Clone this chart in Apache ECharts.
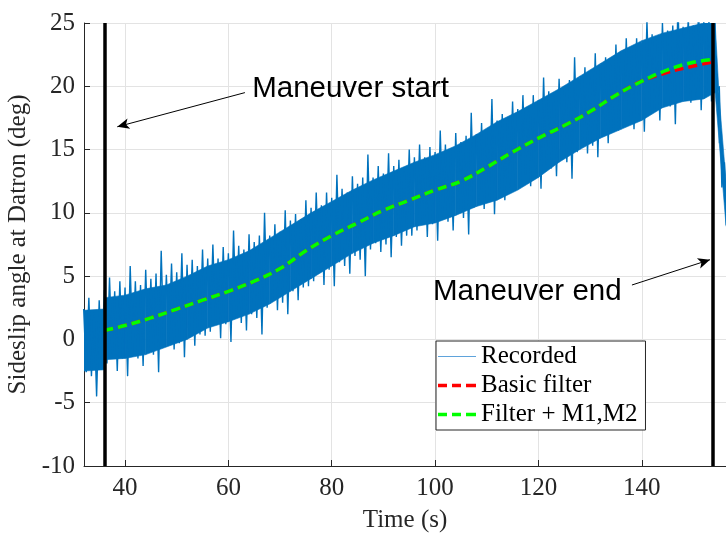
<!DOCTYPE html>
<html>
<head>
<meta charset="utf-8">
<script src="https://cdn.jsdelivr.net/npm/echarts@6/dist/echarts.min.js"></script>
<style>html,body{margin:0;padding:0;background:#fff}#c{width:726px;height:539px}</style>
</head>
<body>
<div id="c"></div>
<script>
// ---------- data ----------
const recStart = 32; // first sample time (s); one high at t, one low at t+0.5
const recHigh = [2.4,3.3,2.3,3.1,
3.9,4.9,3.8,4.6,4.1,5.8,4.6,4.3,5.5,4.8,
5.2,7.0,5.1,6.0,5.3,6.8,5.9,6.3,5.8,7.1,
6.4,7.5,6.4,7.3,6.8,8.6,7.4,7.1,8.3,7.7,
8.2,10.0,8.2,9.1,8.5,10.2,9.4,9.9,9.5,11.0,
10.4,11.6,10.6,11.6,11.2,13.0,11.9,11.6,12.9,12.3,
12.8,14.6,12.8,13.7,13.1,14.7,13.7,14.2,13.6,15.0,
14.4,15.4,14.4,15.2,14.8,16.5,15.4,15.0,16.3,15.6,
16.1,17.9,16.2,17.1,16.5,19.0,17.3,17.8,17.4,18.8,
18.2,19.3,18.4,19.3,18.9,20.7,19.6,19.3,20.6,20.0,
20.5,22.3,20.6,21.5,20.9,22.6,21.7,22.3,21.8,23.3,
22.7,23.8,22.9,23.8,23.4,25.2,24.1,23.7,25.0,24.4,
24.8,26.5,24.7,25.5,24.8,26.3,25.2,25.6,24.9,
20.0,14.0];
const recLow = [-2.6,-2.9,-4.5,-2.4,
-1.9,-1.4,-2.5,-1.5,-2.9,-1.1,-1.5,-2.1,-0.8,-1.2,
-2.6,-0.5,-0.1,-0.8,-0.3,-1.4,0.3,-0.5,0.4,0.3,
0.6,1.2,0.1,1.2,-0.2,1.7,1.3,0.7,2.0,1.7,
0.4,2.5,3.0,2.3,2.9,2.0,3.8,3.1,4.1,4.2,
4.6,5.3,4.3,5.5,4.2,6.1,5.8,5.2,6.6,6.3,
5.0,7.1,7.6,6.9,7.5,6.5,8.1,7.4,8.2,8.2,
8.6,9.1,8.1,9.1,7.8,9.6,9.3,8.6,10.0,9.6,
8.3,10.4,11.0,10.3,10.9,9.9,11.7,11.0,12.0,12.0,
12.4,13.0,12.1,13.2,11.9,13.8,13.5,12.9,14.3,14.0,
12.7,14.8,15.4,14.7,15.3,14.4,16.1,15.5,16.4,16.5,
16.9,17.5,16.6,17.7,16.4,18.3,18.0,17.3,18.7,18.4,
17.0,19.0,19.5,18.7,19.2,18.1,19.6,18.8,19.5,
12.0,8.0];
// dense (solid) part of the recorded signal
const coreTime = [32,35.9,36.1,40,44,48,52,56,60,64,68,72,76,80,84,88,92,96,100,104,108,112,116,120,124,128,132,136,140,144,148,152,154.2,155,156.3];
const coreTop  = [2.3,2.4,3.3,3.5,4.0,4.3,5.0,5.8,6.3,7.0,8.0,9.0,10.0,10.9,11.8,12.6,13.3,14.0,14.6,15.3,16.2,17.2,18.0,18.9,19.8,20.8,21.8,22.8,23.6,24.2,24.6,25.0,25.0,19.0,12.5];
const coreBot  = [-2.5,-2.4,-1.6,-1.5,-1.2,-0.6,0.0,0.9,1.4,2.0,2.8,3.8,4.8,5.8,6.8,7.6,8.2,8.9,9.2,9.8,10.5,11.0,11.8,12.8,14.0,15.0,15.9,16.6,17.3,18.3,18.8,19.0,19.5,15.5,9.0];
const filtTime = [36,40,45,50,55,60,65,70,75,80,85,90,95,100,105,110,115,120,125,130,135,140,145,150,153.5];
const basicFilter = [0.7,1.1,1.7,2.4,3.1,3.8,4.6,5.6,7.0,8.2,9.2,10.2,11.0,11.8,12.5,13.6,14.8,15.9,16.9,18.0,19.3,20.4,21.1,21.6,21.9];
const enhFilter   = [0.7,1.1,1.7,2.4,3.1,3.8,4.6,5.6,7.0,8.2,9.2,10.2,11.0,11.8,12.5,13.6,14.8,15.9,16.9,18.0,19.3,20.4,21.3,21.9,22.1];
const xTicks = [40,60,80,100,120,140];
const maneuverTimes = [36, 153.7];
const annStartArrow = [[63.2,19.5],[38.5,16.8]];
const annEndArrow = [[138.1,4.3],[153.2,6.3]];
const annTexts = [{text:'Maneuver start', at:[64.6,19.8]},{text:'Maneuver end', at:[99.6,3.75]}];
const seriesNames = ['Recorded','Basic filter','Filter + M1,M2'];

// ---------- build ----------
const recData = [];
for (let i = 0; i < recHigh.length; i++) {
  recData.push([recStart + i, recHigh[i]]);
  recData.push([recStart + i + 0.5, recLow[i]]);
}
const coreData = [];
for (let i = 0; i < coreTime.length - 1; i++) {
  coreData.push([coreTime[i], coreBot[i], coreTop[i], coreTime[i+1], coreBot[i+1], coreTop[i+1]]);
}
const zip = (xs, ys) => xs.map((x, i) => [x, ys[i]]);
const BLUE = '#0072BD';
const thinIcon = 'path://M0,0h38v1.2h-38z';
const dashIcon = 'path://M0,0h9v3.5h-9zM14,0h9v3.5h-9zM28,0h10v3.5h-10z';

const serif = "'Liberation Serif','Times New Roman',serif";
const sans = "'Liberation Sans',Arial,sans-serif";
const chart = echarts.init(document.getElementById('c'), null, {renderer:'canvas'});
const option = {
  animation:false,
  backgroundColor:'#fff',
  grid:{left:84, top:23, right:0, bottom:73, containLabel:false, outerBoundsMode:'none'},
  xAxis:{
    type:'value', min:32.06, max:156.3,
    name:'Time (s)', nameLocation:'middle', nameGap:42,
    nameTextStyle:{fontFamily:serif, fontSize:25, color:'#262626'},
    axisLine:{onZero:false, lineStyle:{color:'#262626', width:1}},
    axisTick:{inside:true, length:6, customValues:xTicks, lineStyle:{color:'#262626'}},
    axisLabel:{customValues:xTicks, fontFamily:serif, fontSize:25, color:'#262626', margin:10},
    splitLine:{show:true, lineStyle:{color:'#e3e3e3', width:1}}
  },
  yAxis:{
    type:'value', min:-10, max:25, interval:5,
    name:'Sideslip angle at Datron (deg)', nameLocation:'middle', nameGap:48,
    nameTextStyle:{fontFamily:serif, fontSize:25, color:'#262626'},
    axisLine:{show:true, onZero:false, lineStyle:{color:'#262626', width:1}},
    axisTick:{show:true, inside:true, length:6, lineStyle:{color:'#262626'}},
    axisLabel:{fontFamily:serif, fontSize:25, color:'#262626', margin:9},
    splitLine:{show:true, lineStyle:{color:'#e3e3e3', width:1}}
  },
  legend:{
    orient:'vertical', left:436, top:341,
    padding:[3,8,3,2], itemGap:4,
    itemWidth:38, itemHeight:25,
    backgroundColor:'#fff', borderColor:'#262626', borderWidth:1,
    textStyle:{fontFamily:serif, fontSize:25, color:'#000'},
    data:[
      {name:seriesNames[0], icon:thinIcon, itemStyle:{color:'#5fa3db'}},
      {name:seriesNames[1], icon:dashIcon, itemStyle:{color:'#ff0000'}},
      {name:seriesNames[2], icon:dashIcon, itemStyle:{color:'#00ff00'}}
    ]
  },
  series:[
    {name:'core', type:'custom', data:coreData, z:1, silent:true, clip:true,
     renderItem:function(params, api){
       const a = api.coord([api.value(0), api.value(1)]);
       const b = api.coord([api.value(3), api.value(4)]);
       const c = api.coord([api.value(3), api.value(5)]);
       const d = api.coord([api.value(0), api.value(2)]);
       return {type:'polygon', shape:{points:[a,b,c,d]}, style:{fill:BLUE, stroke:BLUE, lineWidth:0.6}};
     }},
    {name:seriesNames[0], type:'line', data:recData, symbol:'none', showSymbol:false,
     lineStyle:{color:BLUE, width:1.4}, itemStyle:{color:BLUE}, z:2, clip:true},
    {name:seriesNames[1], type:'line', data:zip(filtTime, basicFilter), symbol:'none', smooth:0.4,
     lineStyle:{color:'#ff0000', width:3.5, type:[9,5]}, itemStyle:{color:'#ff0000'}, z:3},
    {name:seriesNames[2], type:'line', data:zip(filtTime, enhFilter), symbol:'none', smooth:0.4,
     lineStyle:{color:'#00ff00', width:3.5, type:[9,5]}, itemStyle:{color:'#00ff00'}, z:4},
    {name:'annot', type:'line', data:[], z:5, silent:true,
     markLine:{
       silent:true, animation:false,
       symbol:['none','none'], label:{show:false},
       lineStyle:{color:'#000', width:3.5, type:'solid'},
       data: maneuverTimes.map(t => ({xAxis:t}))
     }},
    {name:'arrows', type:'line', data:[], z:6, silent:true,
     markLine:{
       silent:true, animation:false,
       symbol:['none','arrow'], symbolSize:[8,12], label:{show:false},
       lineStyle:{color:'#000', width:1, type:'solid'},
       data:[
         [{coord:annStartArrow[0]},{coord:annStartArrow[1]}],
         [{coord:annEndArrow[0]},{coord:annEndArrow[1]}]
       ]
     }}
  ]
};
chart.setOption(option);
const g = annTexts.map(a => {
  const p = chart.convertToPixel({gridIndex:0}, a.at);
  return {type:'text', x:p[0], y:p[1], z:10,
    style:{text:a.text, font:"29.5px " + sans, fill:'#000', verticalAlign:'middle', align:'left'}};
});
chart.setOption({graphic:g});
</script>
</body>
</html>
